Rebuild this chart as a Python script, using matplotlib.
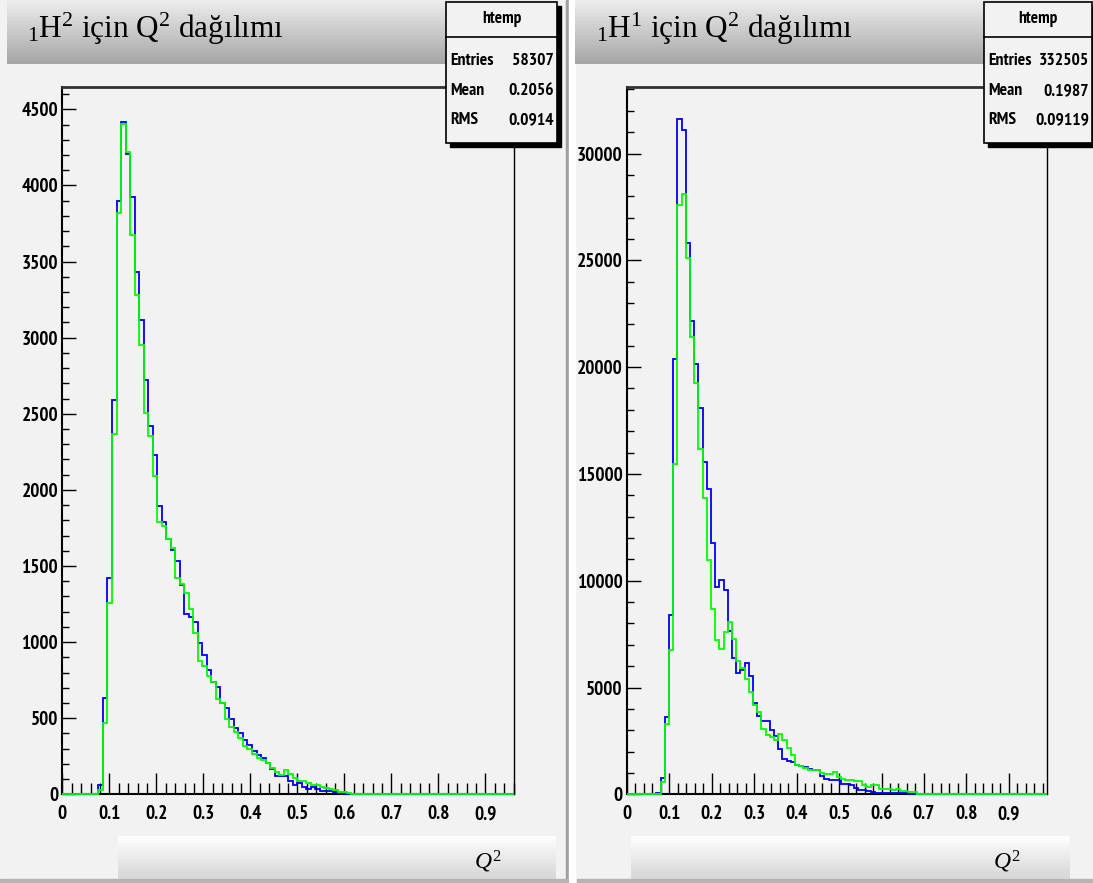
import numpy as np
import matplotlib.pyplot as plt
from matplotlib import font_manager
from matplotlib.font_manager import FontProperties
from matplotlib.textpath import TextPath
from matplotlib.patches import Rectangle
from matplotlib.lines import Line2D

plt.rcParams['mathtext.fontset'] = 'custom'
plt.rcParams['mathtext.rm'] = 'Liberation Serif'
plt.rcParams['mathtext.it'] = 'Liberation Serif:italic'

W, H = 1093, 883
BG = '#f2f2f2'

##Data (100 bins each, counts per bin)
stat_names = ['Entries', 'Mean', 'RMS']

# 1H2 panel
h2_nbins = 100
h2_xmax = 0.961
h2_first = 8
h2_blue = [62, 630, 1420, 2592, 3897, 4420, 4208, 3923, 3429, 3113, 2725, 2417,
           2231, 1891, 1786, 1677, 1606, 1530, 1372, 1184, 1168, 1135, 997, 912,
           816, 737, 703, 599, 565, 492, 437, 403, 357, 322, 285, 260, 237, 204,
           164, 122, 122, 120, 88, 61, 77, 46, 35, 46, 35, 24, 24, 24, 13, 6]
h2_green = [25, 468, 1256, 2366, 3822, 4403, 4221, 3676, 3282, 2949, 2505, 2355,
            2088, 1788, 1764, 1677, 1615, 1420, 1383, 1320, 1220, 1058, 876, 840,
            775, 735, 629, 598, 493, 445, 409, 368, 318, 295, 262, 241, 225, 208,
            171, 149, 127, 160, 131, 109, 90, 90, 72, 61, 61, 50, 44, 33, 28, 17,
            13, 6]
h2_stats = ['58307', '0.2056', '0.0914']
h2_yticks = [0, 500, 1000, 1500, 2000, 2500, 3000, 3500, 4000, 4500]
h2_ymax = 4647

# 1H1 panel
h1_nbins = 100
h1_xmax = 0.99
h1_first = 7
h1_blue = [60, 780, 3620, 8415, 20375, 31616, 31100, 25822, 22155, 20126, 18096,
           15535, 14317, 11772, 9711, 10023, 9555, 7635, 6402, 5699, 5839, 6151,
           5542, 4278, 3653, 3419, 3419, 2998, 2717, 2108, 1670, 1561, 1514, 1390,
           1311, 1280, 1202, 1124, 1124, 874, 734, 687, 687, 656, 500, 500, 422,
           312, 219, 187, 156, 109, 78, 78, 78, 78, 62, 62, 62, 62]
h1_green = [30, 578, 3310, 6745, 15443, 27588, 28103, 25120, 21420, 19235, 16144,
            13880, 10960, 8696, 7213, 6822, 7603, 8071, 7291, 6230, 5917, 5417,
            4793, 4169, 3856, 3075, 2795, 2685, 2529, 2841, 2529, 2170, 1827, 1390,
            1311, 1233, 1124, 1124, 1124, 999, 968, 968, 1030, 812, 718, 687, 687,
            609, 609, 453, 343, 422, 422, 265, 250, 250, 187, 250, 156, 156, 109,
            109]
h1_stats = ['332505', '0.1987', '0.09119']
h1_yticks = [0, 5000, 10000, 15000, 20000, 25000, 30000]
h1_ymax = 33115

x_ticks = [0, 0.1, 0.2, 0.3, 0.4, 0.5, 0.6, 0.7, 0.8, 0.9]
x_labels = ['0', '0.1', '0.2', '0.3', '0.4', '0.5', '0.6', '0.7', '0.8', '0.9']


##pick the narrowest bold sans that is installed (the ROOT labels are squeezed)
def pick_narrow():
	rank = {'ultra-condensed': 1, 'extra-condensed': 0, 'condensed': 2,
	        'semi-condensed': 3}
	best, best_score = None, 99
	for f in font_manager.fontManager.ttflist:
		if f.style != 'normal' or not f.fname.lower().endswith(('.ttf', '.otf')):
			continue
		w = f.weight if isinstance(f.weight, int) else (700 if 'bold' in str(f.weight) else 400)
		if w < 600 or w > 800:
			continue
		s = rank.get(f.stretch, 99)
		if 'Narrow' in f.name:
			s = min(s, 1)
		if 'Condensed' in f.name or 'Condensed' in f.fname:
			s = min(s, 2)
		if s < best_score:
			best, best_score = f.fname, s
	if best is None:
		return FontProperties(family='DejaVu Sans', weight='bold')
	return FontProperties(fname=best)

NARROW = pick_narrow()

def fit_size(text, width_px, max_h_px):
	ext = TextPath((0, 0), text, size=1, prop=NARROW).get_extents()
	hext = TextPath((0, 0), '0', size=1, prop=NARROW).get_extents()
	size_px = min(width_px / ext.width, max_h_px / hext.height)
	return size_px * 72 / 100

TICK_FS = fit_size('4500', 36, 17)
STAT_FS = min(fit_size('Entries', 42, 17), fit_size('332505', 50, 17))
HEAD_FS = fit_size('htemp', 38, 17)


fig = plt.figure(figsize=(W / 100, H / 100), dpi=100)
fig.patch.set_facecolor(BG)


##helpers working in pixel coordinates (y from the top)
def px_axes(x0, y0, x1, y1):
	return fig.add_axes([x0 / W, 1 - y1 / H, (x1 - x0) / W, (y1 - y0) / H])

def rect(x0, y0, x1, y1, **kw):
	fig.add_artist(Rectangle((x0 / W, 1 - y1 / H), (x1 - x0) / W, (y1 - y0) / H,
	                         transform=fig.transFigure, **kw))

def txt(x, y, s, **kw):
	return fig.text(x / W, 1 - y / H, s, **kw)

def gradient(x0, y0, x1, y1, top, bot):
	ax = px_axes(x0, y0, x1, y1)
	t = np.linspace(0, 1, 64)[:, None, None]
	img = np.array(top) * (1 - t) + np.array(bot) * t
	ax.imshow(img, aspect='auto', extent=(0, 1, 0, 1), interpolation='bilinear')
	ax.set_axis_off()

def full(first, vals, n):
	arr = np.zeros(n)
	arr[first:first + len(vals)] = vals
	return arr


def panel(x0, x1, nbins, xmax, first, blue, green, ymax, yticks, ystep):
	ax = px_axes(x0, 87, x1, 794.3)
	ax.set_facecolor(BG)
	edges = np.linspace(0, xmax, nbins + 1)
	ax.stairs(full(first, blue, nbins), edges, color='#0000ff', lw=1.3,
	          zorder=3, clip_on=False)
	ax.stairs(full(first, green, nbins), edges, color='#00ff00', lw=1.3,
	          zorder=3, clip_on=False)
	ax.set_xlim(0, xmax)
	ax.set_ylim(0, ymax)
	ax.set_xticks(x_ticks)
	ax.set_xticklabels(x_labels)
	ax.set_xticks(np.arange(0, xmax, 0.02), minor=True)
	ax.set_yticks(yticks)
	ax.set_yticklabels([str(v) for v in yticks])
	ax.set_yticks(np.arange(0, ymax, ystep), minor=True)
	ax.tick_params(which='both', direction='in', top=False, right=False,
	               width=1, color='black')
	ax.tick_params(axis='x', which='major', length=15, pad=8)
	ax.tick_params(axis='x', which='minor', length=8)
	ax.tick_params(axis='y', which='major', length=10, pad=3)
	ax.tick_params(axis='y', which='minor', length=5)
	for lab in ax.get_xticklabels() + ax.get_yticklabels():
		lab.set_fontproperties(NARROW)
		lab.set_fontsize(TICK_FS)
	ax.spines['left'].set_linewidth(1.5)
	ax.spines['bottom'].set_linewidth(1.5)
	ax.spines['top'].set_linewidth(2)
	ax.spines['top'].set_color('#333333')
	ax.spines['right'].set_linewidth(1)
	return ax


def stats_box(x0, x1, values):
	rect(x0 + 4, 6, x1 + 4, 147, color='black', zorder=5)
	rect(x0, 2, x1, 143, facecolor=BG, edgecolor='black', lw=1.2, zorder=6)
	fig.add_artist(Line2D([x0 / W, x1 / W], [1 - 37 / H, 1 - 37 / H],
	                      transform=fig.transFigure, color='black', lw=1.2, zorder=7))
	t = txt((x0 + x1) / 2, 19, 'htemp', ha='center', va='center', zorder=8,
	        fontproperties=NARROW)
	t.set_fontsize(HEAD_FS)
	for name, val, yy in zip(stat_names, values, [61, 91, 120]):
		a = txt(x0 + 4, yy, name, ha='left', va='center', zorder=8,
		        fontproperties=NARROW)
		b = txt(x1 - 3, yy, val, ha='right', va='center', zorder=8,
		        fontproperties=NARROW)
		a.set_fontsize(STAT_FS)
		b.set_fontsize(STAT_FS)


##pad borders (below the axes so the tick labels stay on top)
rect(566, 0, 569, 883, color='#a0a0a0', zorder=-1)
rect(569, 0, 575, 883, color='#ffffff', zorder=-1)
rect(0, 879, 568, 883, color='#b4b4b4', zorder=-1)
rect(577, 879, 1093, 883, color='#b4b4b4', zorder=-1)

##title and x-label boxes
gradient(7, 0, 556, 64, (0.93, 0.93, 0.93), (0.65, 0.65, 0.65))
gradient(575, 0, 1093, 64, (0.93, 0.93, 0.93), (0.65, 0.65, 0.65))
gradient(118, 836, 556, 879, (1.0, 1.0, 1.0), (0.84, 0.84, 0.84))
gradient(631, 836, 1070, 879, (1.0, 1.0, 1.0), (0.84, 0.84, 0.84))

##the two histograms
panel(62.3, 514, h2_nbins, h2_xmax, h2_first, h2_blue, h2_green, h2_ymax, h2_yticks, 100)
panel(626.9, 1047, h1_nbins, h1_xmax, h1_first, h1_blue, h1_green, h1_ymax, h1_yticks, 1000)

stats_box(446, 557, h2_stats)
stats_box(984, 1092, h1_stats)

##titles
txt(27, 38, r'${}_{1}$H$^{2}$ için Q$^{2}$ dağılımı', ha='left', va='baseline',
    fontsize=22.5, family='Liberation Serif')
txt(596, 38, r'${}_{1}$H$^{1}$ için Q$^{2}$ dağılımı', ha='left', va='baseline',
    fontsize=22.5, family='Liberation Serif')
txt(474, 869, r'$Q^{2}$', ha='left', va='baseline', fontsize=17)
txt(993, 869, r'$Q^{2}$', ha='left', va='baseline', fontsize=17)

plt.savefig('out.png', dpi=100, facecolor=fig.get_facecolor())
